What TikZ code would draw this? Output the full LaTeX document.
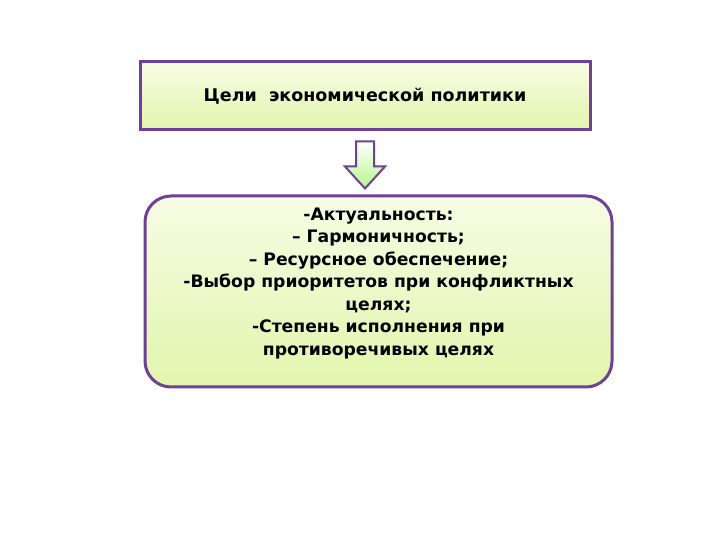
\documentclass[tikz,border=0pt]{standalone}
\usepackage{fontspec}
\setmainfont{DejaVu Sans}
\usepackage{xcolor}
\usepackage{tikz}
\usetikzlibrary{positioning, calc}

\definecolor{framepurple}{RGB}{112,64,150}
\definecolor{palegreen}{RGB}{246,252,228}
\definecolor{limegreen}{RGB}{226,245,172}

\begin{document}
\begin{tikzpicture}[
        x=1pt, y=1pt,
        font=\bfseries,
        goalbox/.style={rectangle, draw=framepurple, line width=3pt, top color=palegreen, bottom color=limegreen, minimum width=450pt, minimum height=68pt, font=\bfseries\fontsize{17.5}{20}\selectfont},
        listbox/.style={rectangle, draw=framepurple, line width=3pt, rounded corners=26pt, top color=palegreen, bottom color=limegreen, minimum width=467pt, minimum height=191pt, inner sep=6pt, font=\bfseries\fontsize{17.2}{22.5}\selectfont},
        blockarrow/.style={draw=framepurple, line width=2pt, line join=miter, top color=white, bottom color=limegreen!80!green}
    ]

    \useasboundingbox [fill=white] (0,0) rectangle (720,540);

    % Nodes
    \node [goalbox] (goals) at (365,444) {Цели\ \ экономической политики};
    \node [listbox] (criteria) at (378.5,248.5) {\parbox[c][176pt][t]{450pt}{\centering
        \vspace*{4pt}
        -Актуальность:\\
        -- Гармоничность;\\
        -- Ресурсное обеспечение;\\
        -Выбор приоритетов при конфликтных\\
        целях;\\
        -Степень исполнения при\\
        противоречивых целях}};

    % Edges
    \path [blockarrow] ($(goals.south)+(-9,-10)$) -- ($(goals.south)+(9,-10)$)
        -- ($(criteria.north -| goals.south)+(9,28)$) -- ($(criteria.north -| goals.south)+(20,28)$)
        -- ($(criteria.north -| goals.south)+(0,6)$)
        -- ($(criteria.north -| goals.south)+(-20,28)$) -- ($(criteria.north -| goals.south)+(-9,28)$) -- cycle;

\end{tikzpicture}
\end{document}
